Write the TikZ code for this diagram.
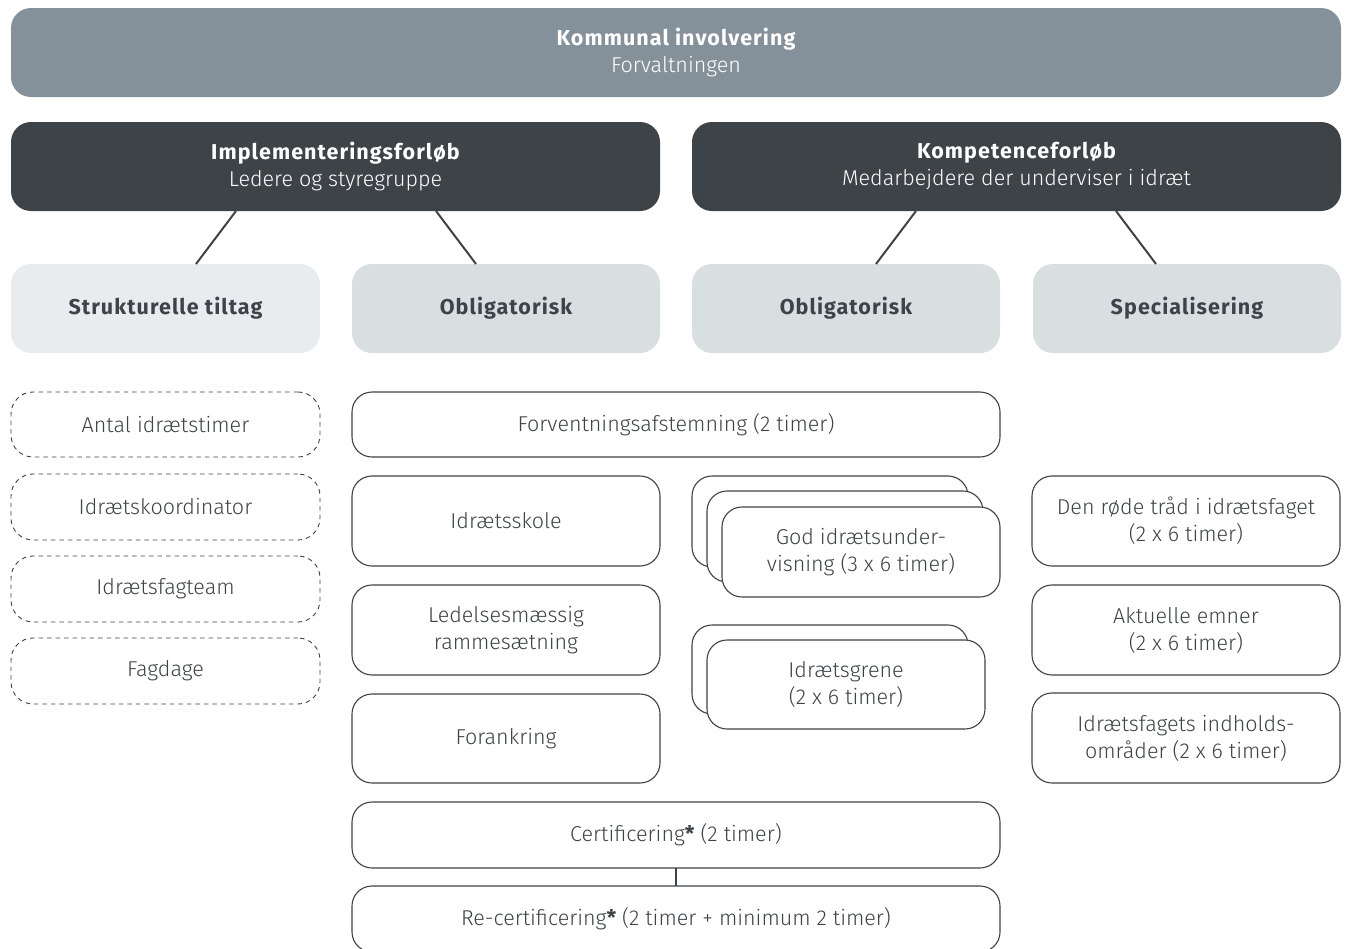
\documentclass[tikz,border=0pt]{standalone}
\usepackage{fontspec}
\setmainfont{Fira Sans Light}[BoldFont={Fira Sans Bold}]
\definecolor{banner}{HTML}{85919A}
\definecolor{dark}{HTML}{3D4347}
\definecolor{lightA}{HTML}{E8ECEE}
\definecolor{lightB}{HTML}{D9DEE1}
\newcommand\bodyfont{\fontsize{21.5}{27}\selectfont}
\newcommand\headfont{\fontsize{21.5}{27}\selectfont\bfseries\addfontfeatures{LetterSpace=5}}
\tikzset{
  x=1pt, y=-1pt,
  base/.style={inner sep=0pt, outer sep=0pt, align=center, rounded corners=20pt,
    font=\bodyfont, text=dark},
  bannerbox/.style={base, fill=banner, text=white},
  headbox/.style={base, fill=dark, text=white},
  catA/.style={base, fill=lightA, font=\headfont},
  catB/.style={base, fill=lightB, font=\headfont},
  card/.style={base, draw=dark, line width=1.1pt, fill=white},
  dashcard/.style={base, draw=dark, line width=0.9pt, dash pattern=on 4.5pt off 4pt, rounded corners=22pt},
  link/.style={draw=dark, line width=2pt},
}
\newcommand\place[7]{\node[#2, minimum width={#5-#3}, minimum height={#6-#4}] (#1) at ({(#3+#5)/2},{(#4+#6)/2}) {#7};}
\newcommand\hd[1]{{\headfont #1}}
\begin{document}
\begin{tikzpicture}
\useasboundingbox (0,0) rectangle (1346,948);
\clip (0,0) rectangle (1346,948);
% top banner
\place{komm}{bannerbox}{11}{8}{1341}{97}{\hd{Kommunal involvering}\\Forvaltningen}
% heading boxes
\place{impl}{headbox}{11}{122}{660}{211}{\hd{Implementeringsforløb}\\Ledere og styregruppe}
\place{komp}{headbox}{692}{122}{1341}{211}{\hd{Kompetenceforløb}\\Medarbejdere der underviser i idræt}
% categories
\place{strukt}{catA}{11}{264}{320}{353}{Strukturelle tiltag}
\place{obl1}{catB}{352}{264}{660}{353}{Obligatorisk}
\place{obl2}{catB}{692}{264}{1000}{353}{Obligatorisk}
\place{spec}{catB}{1033}{264}{1341}{353}{Specialisering}
% connectors
\draw[link] ([xshift=225pt]impl.south west) -- ([xshift=185pt]strukt.north west);
\draw[link] ([xshift=425pt]impl.south west) -- ([xshift=124pt]obl1.north west);
\draw[link] ([xshift=224pt]komp.south west) -- ([xshift=184pt]obl2.north west);
\draw[link] ([xshift=424pt]komp.south west) -- ([xshift=123pt]spec.north west);
% dashed column
\place{d1}{dashcard}{11}{392}{320}{457}{Antal idrætstimer}
\place{d2}{dashcard}{11}{474}{320}{540}{Idrætskoordinator}
\place{d3}{dashcard}{11}{556}{320}{622}{Idrætsfagteam}
\place{d4}{dashcard}{11}{638}{320}{704}{Fagdage}
% implementering obligatorisk
\place{forv}{card}{352}{392}{1000}{457}{Forventningsafstemning (2 timer)}
\place{skole}{card}{352}{476}{660}{566}{Idrætsskole}
\place{ledel}{card}{352}{585}{660}{675}{Ledelsesmæssig\\rammesætning}
\place{foran}{card}{352}{694}{660}{783}{Forankring}
% stacked cards
\place{godA}{card}{692}{476}{968}{567}{}
\place{godB}{card}{707}{491}{983}{582}{}
\place{god}{card}{722}{507}{1000}{597}{God idrætsunder-\\visning (3 x 6 timer)}
\place{greneA}{card}{692}{625}{968}{714}{}
\place{grene}{card}{707}{640}{985}{729}{Idrætsgrene\\(2 x 6 timer)}
% specialisering
\place{s1}{card}{1032}{476}{1340}{566}{Den røde tråd i idrætsfaget\\(2 x 6 timer)}
\place{s2}{card}{1032}{585}{1340}{675}{Aktuelle emner\\(2 x 6 timer)}
\place{s3}{card}{1032}{693}{1340}{783}{Idrætsfagets indholds-\\områder (2 x 6 timer)}
% certification
\place{cert}{card}{352}{802}{1000}{868}{Certificering\textbf{*} (2 timer)}
\place{recert}{card}{352}{886}{1000}{952}{Re-certificering\textbf{*} (2 timer + minimum 2 timer)}
\draw[link] (cert.south) -- (recert.north);
\end{tikzpicture}
\end{document}
